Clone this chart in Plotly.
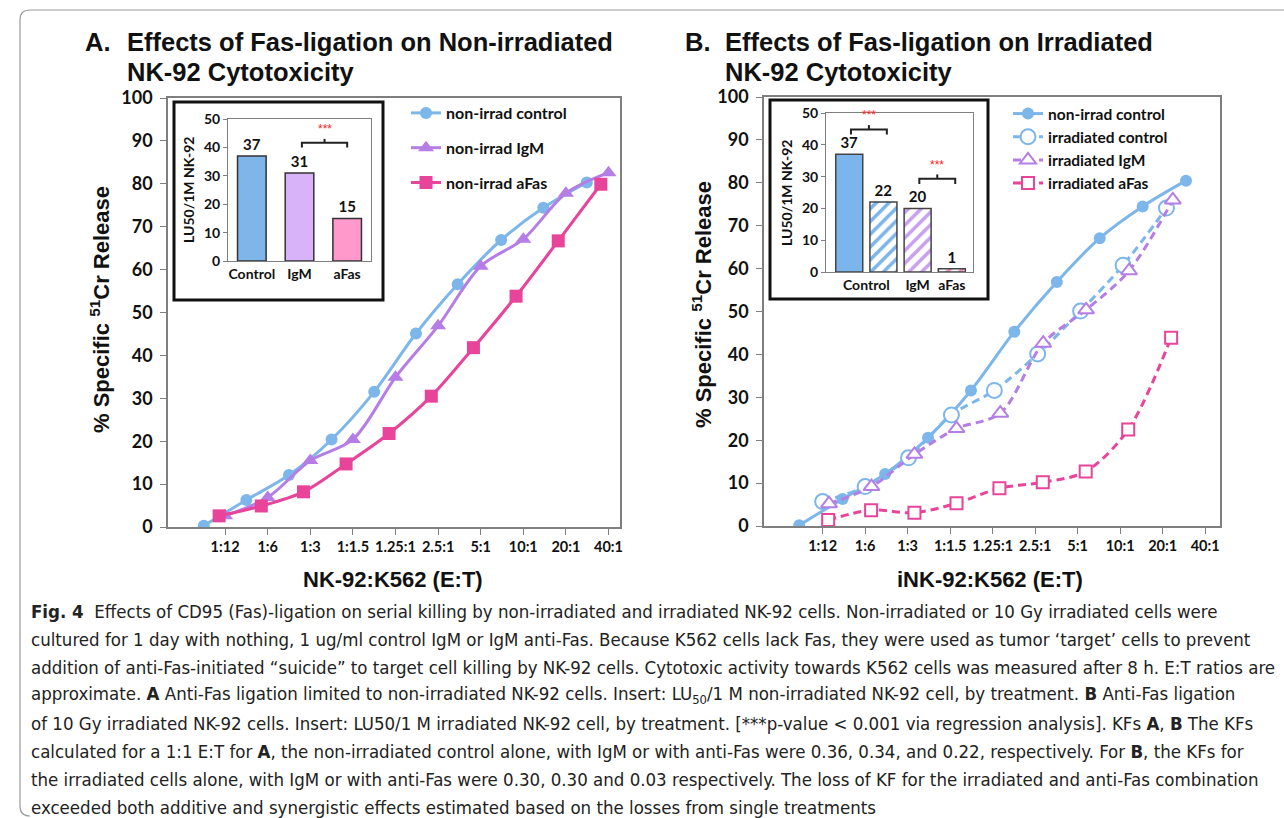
import plotly.graph_objects as go

W, H = 1284, 818
def px(x): return x / W
def py(y): return 1 - y / H

# ---------------- data ----------------
et_labels = ['1:12', '1:6', '1:3', '1:1.5', '1.25:1', '2.5:1', '5:1', '10:1', '20:1', '40:1']
et_pos = [1, 2, 3, 4, 5, 6, 7, 8, 9, 10]

# Panel A
a_ctrl_x = [0.5, 1.5, 2.5, 3.5, 4.5, 5.48, 6.46, 7.48, 8.47, 9.49]
a_ctrl_y = [0.3, 6.3, 12.1, 20.4, 31.5, 45.1, 56.6, 66.9, 74.4, 80.3]
a_igm_x = [1, 2, 3, 4, 5, 6, 7, 8, 9, 10]
a_igm_y = [2.6, 6.9, 15.5, 20.4, 34.9, 46.9, 60.8, 67.1, 77.8, 82.6]
a_afas_x = [0.86, 1.85, 2.84, 3.84, 4.85, 5.84, 6.83, 7.83, 8.82, 9.82]
a_afas_y = [2.6, 4.9, 8.2, 14.7, 21.8, 30.5, 41.8, 53.8, 66.7, 79.9]

# Panel B
b_ctrl_x = [0.45, 1.47, 2.47, 3.48, 4.49, 5.51, 6.51, 7.52, 8.53, 9.55]
b_ctrl_y = [0.2, 6.3, 12.1, 20.6, 31.6, 45.3, 56.9, 67.1, 74.5, 80.5]
b_irr_ctrl_x = [1.0, 2.0, 3.02, 4.03, 5.04, 6.06, 7.07, 8.07, 9.09]
b_irr_ctrl_y = [5.7, 9.2, 15.9, 25.9, 31.6, 40.1, 50.1, 60.8, 74.1]
b_irr_igm_x = [1.15, 2.15, 3.16, 4.15, 5.18, 6.19, 7.2, 8.21, 9.24]
b_irr_igm_y = [5.2, 9.2, 16.7, 22.7, 26.3, 42.6, 50.4, 59.5, 76.0]
b_irr_afas_x = [1.13, 2.14, 3.16, 4.15, 5.16, 6.18, 7.19, 8.19, 9.2]
b_irr_afas_y = [1.4, 3.7, 3.1, 5.3, 8.8, 10.2, 12.7, 22.5, 43.9]

# Insets
ins_a_cats = ['Control', 'IgM', 'aFas']
ins_a_vals = [37, 31, 15]
ins_b_vals = [37, 22, 20, 1]
ins_b_ticks = ['Control', 'IgM', 'aFas']

BLUE = '#7DB6EB'
PURPLE = '#B57EE6'
PINK = '#E8449A'

BOLD_ARIAL = 'Liberation Sans'
CAL = 'Lato'

fig = go.Figure()

def line(color, dash=None):
    d = dict(color=color, width=3, shape='spline', smoothing=0.9)
    if dash:
        d['dash'] = dash
    return d

# Panel A traces
fig.add_trace(go.Scatter(x=a_ctrl_x, y=a_ctrl_y, mode='lines+markers', name='non-irrad control',
                         line=line(BLUE), marker=dict(symbol='circle', size=12, color=BLUE),
                         xaxis='x', yaxis='y', legend='legend', legendgroup='a1'))
fig.add_trace(go.Scatter(x=a_igm_x, y=a_igm_y, mode='lines+markers', name='non-irrad IgM',
                         line=line(PURPLE), marker=dict(symbol='triangle-up', size=14, color=PURPLE),
                         xaxis='x', yaxis='y', legend='legend', legendgroup='a2'))
fig.add_trace(go.Scatter(x=a_afas_x, y=a_afas_y, mode='lines+markers', name='non-irrad aFas',
                         line=line(PINK), marker=dict(symbol='square', size=13, color=PINK),
                         xaxis='x', yaxis='y', legend='legend', legendgroup='a3'))

# Panel B traces
DASH = '8px,5px'
fig.add_trace(go.Scatter(x=b_ctrl_x, y=b_ctrl_y, mode='lines+markers', name='non-irrad control',
                         line=line(BLUE), marker=dict(symbol='circle', size=12, color=BLUE),
                         xaxis='x2', yaxis='y2', legend='legend2'))
fig.add_trace(go.Scatter(x=b_irr_ctrl_x, y=b_irr_ctrl_y, mode='lines+markers', name='irradiated control',
                         line=line(BLUE, DASH),
                         marker=dict(symbol='circle', size=15, color='white', line=dict(color=BLUE, width=2)),
                         xaxis='x2', yaxis='y2', legend='legend2'))
fig.add_trace(go.Scatter(x=b_irr_igm_x, y=b_irr_igm_y, mode='lines+markers', name='irradiated IgM',
                         line=line(PURPLE, DASH),
                         marker=dict(symbol='triangle-up', size=14, color='white', line=dict(color=PURPLE, width=2)),
                         xaxis='x2', yaxis='y2', legend='legend2'))
fig.add_trace(go.Scatter(x=b_irr_afas_x, y=b_irr_afas_y, mode='lines+markers', name='irradiated aFas',
                         line=line(PINK, DASH),
                         marker=dict(symbol='square', size=12, color='white', line=dict(color=PINK, width=2)),
                         xaxis='x2', yaxis='y2', legend='legend2'))

BAR_TXT = dict(family=CAL, size=15, color='#111', weight='bold')

# Inset A bars
fig.add_trace(go.Bar(x=[0, 1, 2], y=ins_a_vals, width=0.6,
                     marker=dict(color=['#7EB6EA', '#D9B3FA', '#FF99CC'], line=dict(color='#333333', width=1.5)),
                     text=[str(v) for v in ins_a_vals], textposition='outside',
                     textfont=BAR_TXT, cliponaxis=False,
                     xaxis='x3', yaxis='y3', showlegend=False))

# Inset B bars (one trace per bar for individual fill patterns)
b_fill = ['#7CB5EC', '#7CB5EC', '#C9A0F0', '#F08FC0']
b_hatch = ['', '/', '/', '/']
for i, v in enumerate(ins_b_vals):
    if b_hatch[i]:
        mk = dict(color='white', line=dict(color='#444444', width=1.5),
                  pattern=dict(shape='/', fgcolor=b_fill[i], bgcolor='white', size=9, solidity=0.4,
                               fillmode='replace'))
    else:
        mk = dict(color=b_fill[i], line=dict(color='#444444', width=1.5))
    fig.add_trace(go.Bar(x=[i], y=[v], width=0.79, marker=mk,
                         text=[str(v)], textposition='outside', textfont=BAR_TXT, cliponaxis=False,
                         xaxis='x4', yaxis='y4', showlegend=False))

AXC = '#7f7f7f'
tickfont_main_y = dict(family=CAL, size=18, color='#111', weight='bold')
tickfont_main_x = dict(family=CAL, size=14.5, color='#111', weight='bold')
ins_tick = dict(family=CAL, size=14, color='#111', weight='bold')

main_axis_common = dict(showgrid=False, zeroline=False, showline=True, linecolor=AXC, linewidth=1.5,
                        mirror=True, ticks='outside', ticklen=6, tickcolor=AXC, automargin=False)
ins_common = dict(showgrid=False, zeroline=False, showline=True, linecolor=AXC, linewidth=1, mirror=True,
                  automargin=False, tickfont=ins_tick)

fig.update_layout(
    width=W, height=H, margin=dict(l=0, r=0, t=0, b=0, autoexpand=False),
    paper_bgcolor='white', plot_bgcolor='white', barmode='overlay',
    xaxis=dict(domain=[px(168), px(620)], range=[-0.34, 10.27], tickvals=et_pos, ticktext=et_labels,
               tickfont=tickfont_main_x, anchor='y', **main_axis_common),
    yaxis=dict(domain=[py(527), py(98)], range=[0, 100], dtick=10, tickfont=tickfont_main_y,
               anchor='x', ticklabelstandoff=4, **main_axis_common),
    xaxis2=dict(domain=[px(764), px(1220)], range=[-0.38, 10.35], tickvals=et_pos, ticktext=et_labels,
                tickfont=tickfont_main_x, anchor='y2', **main_axis_common),
    yaxis2=dict(domain=[py(526), py(97)], range=[0, 100], dtick=10, tickfont=tickfont_main_y,
                anchor='x2', ticklabelstandoff=4, **main_axis_common),
    xaxis3=dict(domain=[px(228), px(371)], range=[-0.5, 2.5], tickvals=[0, 1, 2], ticktext=ins_a_cats,
                anchor='y3', ticks='', **ins_common),
    yaxis3=dict(domain=[py(261), py(119)], range=[0, 50], dtick=10,
                anchor='x3', ticks='outside', ticklen=4, tickcolor=AXC, **ins_common),
    xaxis4=dict(domain=[px(826), px(973)], range=[-0.68, 3.62], tickvals=[0.5, 2, 3], ticktext=ins_b_ticks,
                anchor='y4', ticks='', **ins_common),
    yaxis4=dict(domain=[py(272), py(113)], range=[0, 50], dtick=10,
                anchor='x4', ticks='outside', ticklen=4, tickcolor=AXC, **ins_common),
    legend=dict(x=px(406), y=py(96), xanchor='left', yanchor='top', bgcolor='rgba(0,0,0,0)',
                font=dict(family=CAL, size=16, color='#111', weight='bold'), tracegroupgap=11, itemwidth=30),
    legend2=dict(x=px(1008), y=py(97), xanchor='left', yanchor='top', bgcolor='rgba(0,0,0,0)',
                 font=dict(family=CAL, size=15.5, color='#111', weight='bold'), tracegroupgap=0, itemwidth=30),
    showlegend=True,
)

shapes = []
# inset frames
shapes.append(dict(type='rect', xref='paper', yref='paper', x0=px(174), x1=px(383), y0=py(300), y1=py(102),
                   line=dict(color='#111', width=3), layer='above'))
shapes.append(dict(type='rect', xref='paper', yref='paper', x0=px(770), x1=px(988), y0=py(299), y1=py(100),
                   line=dict(color='#111', width=3), layer='above'))
# outer figure frame
shapes.append(dict(type='path', xref='paper', yref='paper',
                   path=f'M {px(1284)},{py(10)} L {px(30)},{py(10)} Q {px(20)},{py(10)} {px(20)},{py(20)} '
                        f'L {px(20)},{py(806)} Q {px(20)},{py(816)} {px(30)},{py(816)}',
                   line=dict(color='#9a9a9a', width=1.2)))

annotations = []

def bracket(xref, yref, xa, xb, ybase):
    xm = (xa + xb) / 2
    shapes.append(dict(type='path', xref=xref, yref=yref,
                       path=f'M {xa},{ybase} L {xa},{ybase + 1.6} L {xb},{ybase + 1.6} L {xb},{ybase}',
                       line=dict(color='#222', width=2)))
    shapes.append(dict(type='line', xref=xref, yref=yref, x0=xm, x1=xm, y0=ybase + 1.6, y1=ybase + 3.0,
                       line=dict(color='#222', width=2)))
    annotations.append(dict(x=xm, y=ybase + 3.2, xref=xref, yref=yref, text='***', showarrow=False,
                            yanchor='bottom', font=dict(family=BOLD_ARIAL, size=12, color='#FF2020')))

bracket('x3', 'y3', 1.05, 2.0, ins_a_vals[1] + 9)
bracket('x4', 'y4', 0.05, 1.1, ins_b_vals[0] + 6.2)
bracket('x4', 'y4', 2.05, 3.1, ins_b_vals[2] + 7.7)

TITLE_FONT = dict(family=BOLD_ARIAL, size=25.5, color='#111')
def t(x, y, text, font, xanchor='left', **kw):
    annotations.append(dict(x=px(x), y=py(y), xref='paper', yref='paper', text=text, showarrow=False,
                            xanchor=xanchor, yanchor='middle', font=font, **kw))

# titles
t(83, 42, '<b>A.</b>', TITLE_FONT)
t(125, 42, '<b>Effects of Fas-ligation on Non-irradiated</b>', TITLE_FONT)
t(125, 72, '<b>NK-92 Cytotoxicity</b>', TITLE_FONT)
t(683, 42, '<b>B.</b>', TITLE_FONT)
t(723, 42, '<b>Effects of Fas-ligation on Irradiated</b>', TITLE_FONT)
t(723, 72, '<b>NK-92 Cytotoxicity</b>', TITLE_FONT)

AXT_FONT = dict(family=BOLD_ARIAL, size=22, color='#111')
t(100, 310, '<b>% Specific <sup>51</sup>Cr Release</b>', AXT_FONT, xanchor='center', textangle=-90)
t(702, 305, '<b>% Specific <sup>51</sup>Cr Release</b>', AXT_FONT, xanchor='center', textangle=-90)
t(393, 579, '<b>NK-92:K562 (E:T)</b>', AXT_FONT, xanchor='center')
t(990, 579, '<b>iNK-92:K562 (E:T)</b>', AXT_FONT, xanchor='center')

INS_T = dict(family=CAL, size=14, color='#111')
t(188, 190, '<b>LU50/1M NK-92</b>', INS_T, xanchor='center', textangle=-90)
t(786, 193, '<b>LU50/1M NK-92</b>', INS_T, xanchor='center', textangle=-90)

# caption
CAP = dict(family='Liberation Sans Narrow, DejaVu Sans Condensed, Roboto Condensed, sans-serif', size=18.5, color='#222')
cap_lines = [
    '<b>Fig. 4</b>  Effects of CD95 (Fas)-ligation on serial killing by non-irradiated and irradiated NK-92 cells. Non-irradiated or 10 Gy irradiated cells were',
    'cultured for 1 day with nothing, 1 ug/ml control IgM or IgM anti-Fas. Because K562 cells lack Fas, they were used as tumor \u2018target\u2019 cells to prevent',
    'addition of anti-Fas-initiated \u201csuicide\u201d to target cell killing by NK-92 cells. Cytotoxic activity towards K562 cells was measured after 8 h. E:T ratios are',
    'approximate. <b>A</b> Anti-Fas ligation limited to non-irradiated NK-92 cells. Insert: LU<sub>50</sub>/1 M non-irradiated NK-92 cell, by treatment. <b>B</b> Anti-Fas ligation',
    'of 10 Gy irradiated NK-92 cells. Insert: LU50/1 M irradiated NK-92 cell, by treatment. [***p-value < 0.001 via regression analysis]. KFs <b>A</b>, <b>B</b> The KFs',
    'calculated for a 1:1 E:T for <b>A</b>, the non-irradiated control alone, with IgM or with anti-Fas were 0.36, 0.34, and 0.22, respectively. For <b>B</b>, the KFs for',
    'the irradiated cells alone, with IgM or with anti-Fas were 0.30, 0.30 and 0.03 respectively. The loss of KF for the irradiated and anti-Fas combination',
    'exceeded both additive and synergistic effects estimated based on the losses from single treatments',
]
cap_y = [611, 639, 667, 695, 723, 751, 779, 807]
for yy, txt in zip(cap_y, cap_lines):
    t(29, yy, txt, CAP)

fig.update_layout(shapes=shapes, annotations=annotations)
fig.write_html('out.html')
